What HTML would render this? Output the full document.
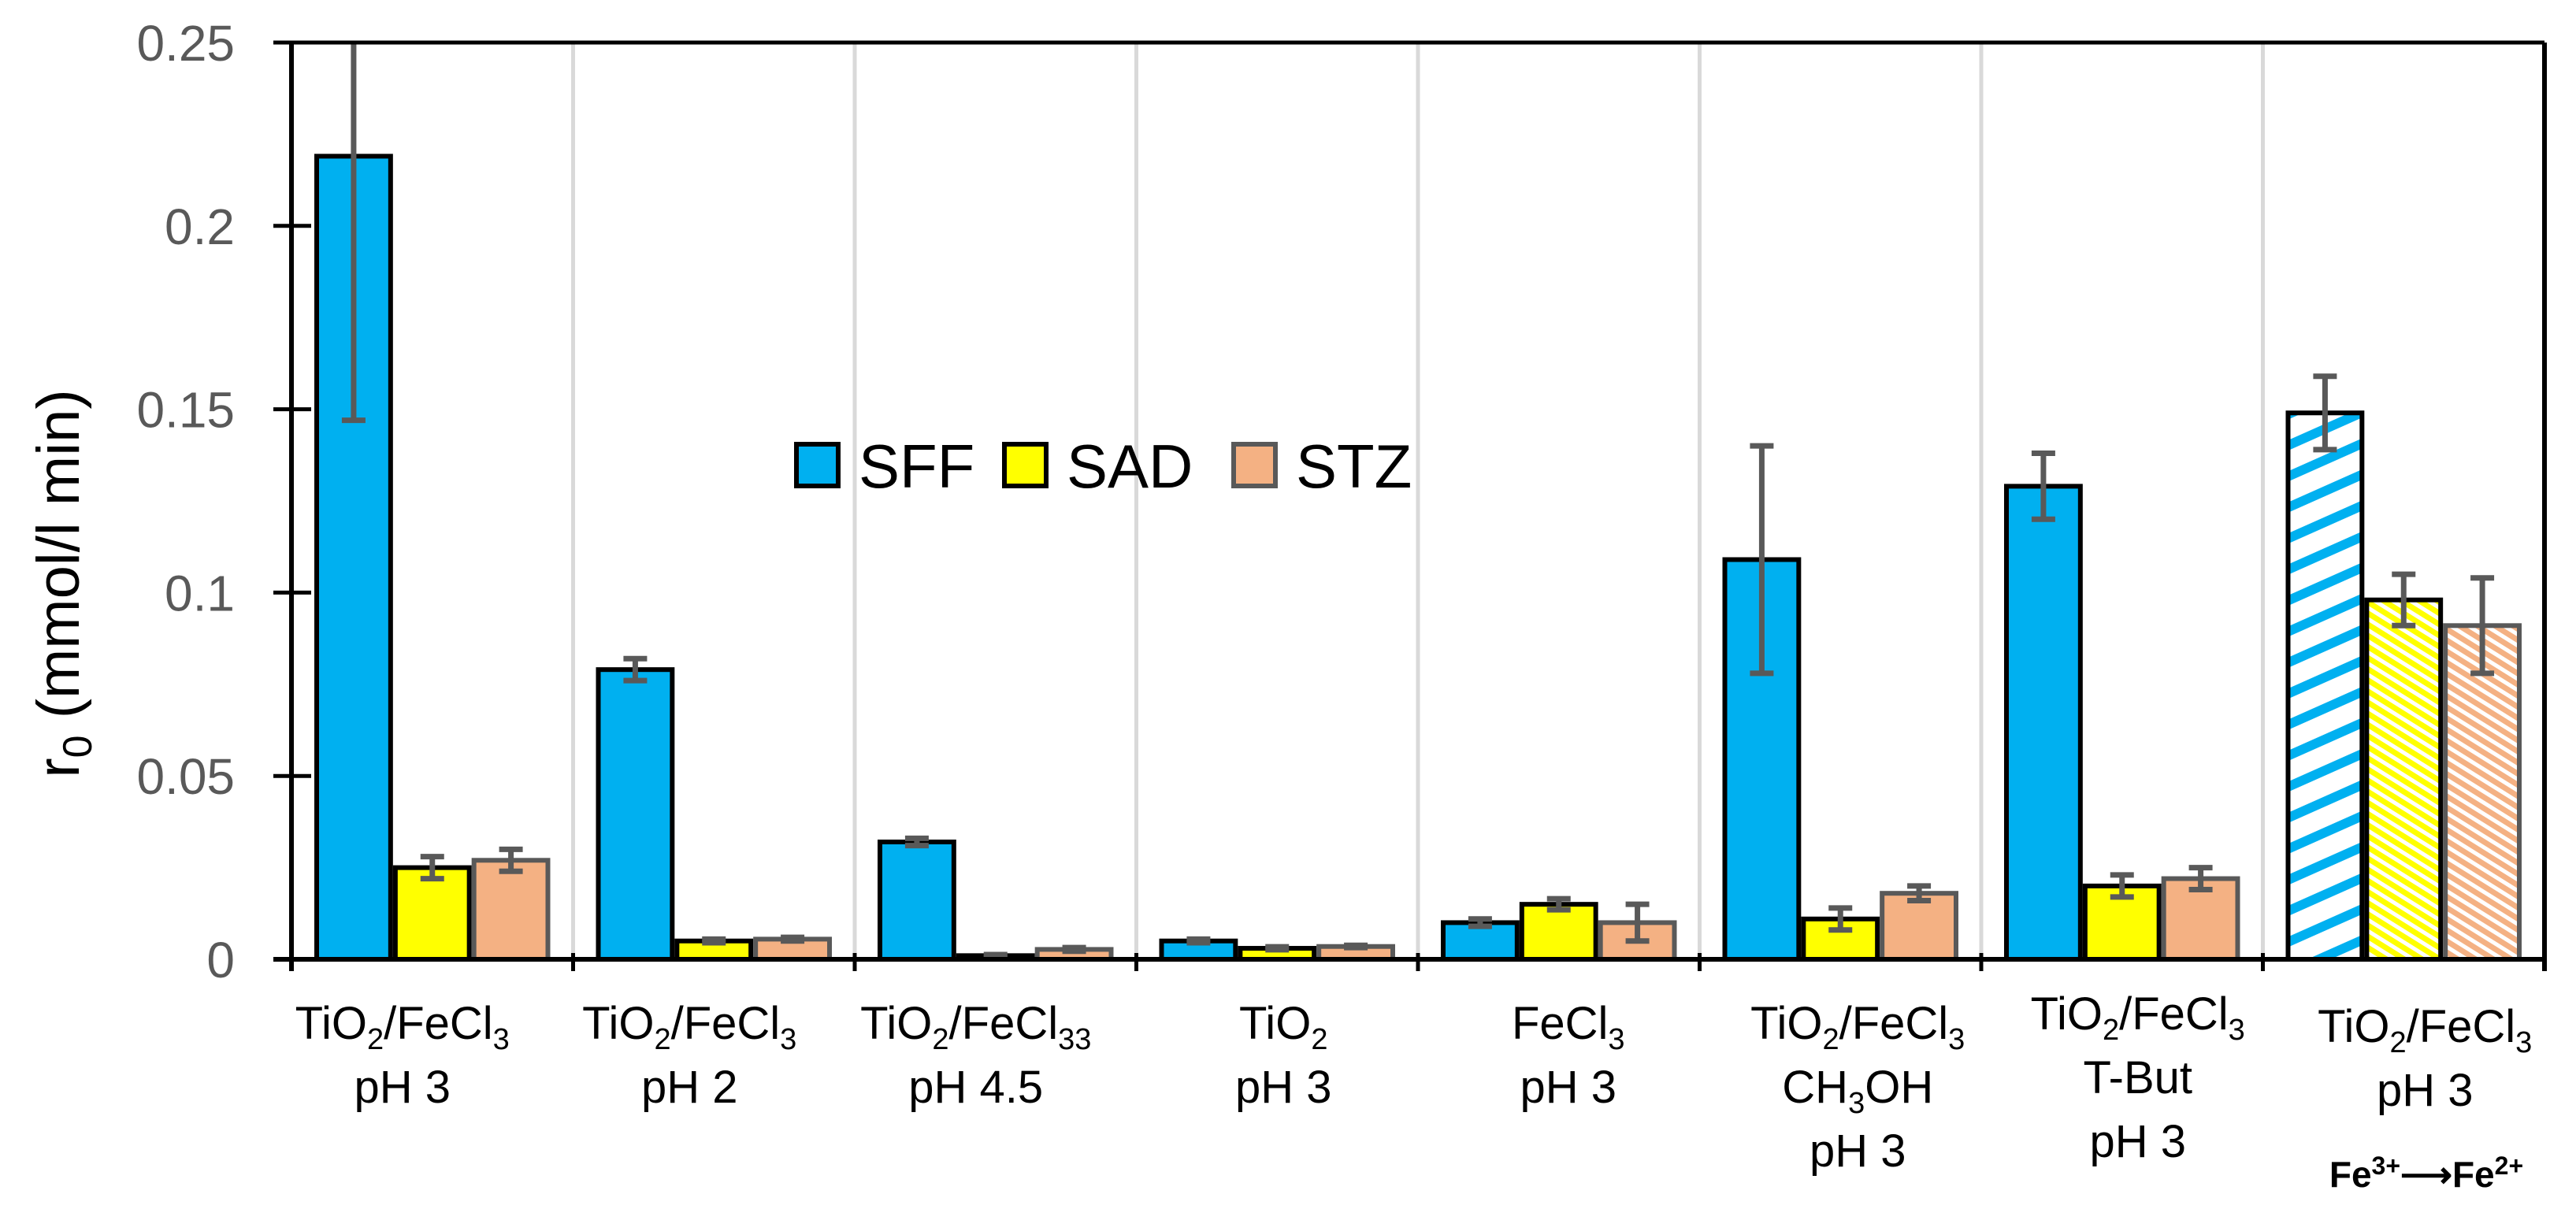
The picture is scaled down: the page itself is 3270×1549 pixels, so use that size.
<!DOCTYPE html>
<html><head><meta charset="utf-8"><style>
html,body{margin:0;padding:0;background:#fff;}
svg{display:block;font-family:"Liberation Sans",sans-serif;}
</style></head><body>
<svg id="chart" width="3270" height="1549" viewBox="0 0 3270 1549" xmlns="http://www.w3.org/2000/svg">
<defs>
<pattern id="hatchBlue" patternUnits="userSpaceOnUse" width="36" height="36" patternTransform="rotate(-24)">
<rect width="36" height="36" fill="#fff"/><rect width="36" height="12" fill="#00B0F0"/></pattern>
<pattern id="hatchYellow" patternUnits="userSpaceOnUse" width="12" height="12" patternTransform="rotate(32)">
<rect width="12" height="12" fill="#fff"/><rect width="12" height="7" fill="#FFFF00"/></pattern>
<pattern id="hatchOrange" patternUnits="userSpaceOnUse" width="12" height="12" patternTransform="rotate(32)">
<rect width="12" height="12" fill="#fff"/><rect width="12" height="7" fill="#F4B183"/></pattern>
</defs>
<g id="grid"></g><g id="bars"></g><g id="axes"></g><g id="labels"></g>
<text transform="translate(100,741) rotate(-90)" text-anchor="middle" font-size="76" fill="#000">r<tspan font-size="52" dy="16">0</tspan><tspan dy="-16"> (mmol/l min)</tspan></text>
<g>
<rect x="1011" y="564" width="53" height="53" fill="#00B0F0" stroke="#000" stroke-width="6"/>
<text x="1090" y="619" font-size="78">SFF</text>
<rect x="1275" y="564" width="53" height="53" fill="#FFFF00" stroke="#000" stroke-width="6"/>
<text x="1354" y="619" font-size="78">SAD</text>
<rect x="1566" y="564" width="53" height="53" fill="#F4B183" stroke="#595959" stroke-width="6"/>
<text x="1645" y="619" font-size="78">STZ</text>
</g>
</svg>
<script>
const categories = ["TiO2/FeCl3 pH 3","TiO2/FeCl3 pH 2","TiO2/FeCl3 pH 4.5","TiO2 pH 3","FeCl3 pH 3","TiO2/FeCl3 CH3OH pH 3","TiO2/FeCl3 T-But pH 3","TiO2/FeCl3 pH 3 Fe3+->Fe2+"];
const sffValues = [0.219,0.079,0.032,0.005,0.010,0.109,0.129,0.149];
const sadValues = [0.025,0.005,0.001,0.003,0.015,0.011,0.020,0.098];
const stzValues = [0.027,0.0055,0.0027,0.0035,0.010,0.018,0.022,0.091];
const sffErrors = [0.072,0.003,0.001,0.0005,0.001,0.031,0.009,0.010];
const sadErrors = [0.003,0.0005,0.0003,0.0004,0.0015,0.003,0.003,0.007];
const stzErrors = [0.003,0.0005,0.0005,0.0003,0.005,0.002,0.003,0.013];
const yTicks = [0,0.05,0.1,0.15,0.2,0.25];
const yTickLabels = ["0","0.05","0.1","0.15","0.2","0.25"];

const NS="http://www.w3.org/2000/svg";
const L=370,R=3230,T=54,B=1218,YMAX=0.25;
const catW=(R-L)/categories.length;
const y=v=>B-(Math.min(v,YMAX)/YMAX)*(B-T);
const xCat=i=>L+i*catW;
function mk(tag,parent,attrs){const e=document.createElementNS(NS,tag);for(const k in attrs)e.setAttribute(k,attrs[k]);parent.appendChild(e);return e;}
const grid=document.getElementById('grid'),bars=document.getElementById('bars'),axes=document.getElementById('axes'),labels=document.getElementById('labels');

for(let i=1;i<categories.length;i++){
  const g=mk('line',grid,{x1:xCat(i),x2:xCat(i),y1:T,y2:B,stroke:'#D9D9D9','stroke-width':5});
  
  
}
const series=[
 {name:'sff',vals:sffValues,errs:sffErrors,fill:'#00B0F0',stroke:'#000',hatch:'url(#hatchBlue)'},
 {name:'sad',vals:sadValues,errs:sadErrors,fill:'#FFFF00',stroke:'#000',hatch:'url(#hatchYellow)'},
 {name:'stz',vals:stzValues,errs:stzErrors,fill:'#F4B183',stroke:'#595959',hatch:'url(#hatchOrange)'}];
const gap=29,bw=(catW-2*gap)/3;
categories.forEach((c,i)=>{
  series.forEach((s,j)=>{
    const x0=xCat(i)+gap+j*bw, v=s.vals[i];
    const r=mk('rect',bars,{x:x0+3,y:y(v),width:bw-6,height:B-y(v),fill:i===7?s.hatch:s.fill,stroke:s.stroke,'stroke-width':6});
    
    
  });
});
categories.forEach((c,i)=>{
  series.forEach((s,j)=>{
    const cx=xCat(i)+gap+j*bw+bw/2, v=s.vals[i], e=s.errs[i];
    const top=y(v+e),bot=y(v-e);
    const eg=mk('g',bars,{stroke:'#595959','stroke-width':7});
    
    
    mk('line',eg,{x1:cx,x2:cx,y1:top,y2:bot});
    if(v+e<=YMAX) mk('line',eg,{x1:cx-15,x2:cx+15,y1:top,y2:top});
    mk('line',eg,{x1:cx-15,x2:cx+15,y1:bot,y2:bot});
  });
});
let a=mk('line',axes,{x1:347,x2:R,y1:B,y2:B,stroke:'#000','stroke-width':6});

a=mk('line',axes,{x1:L,x2:L,y1:T,y2:B+15,stroke:'#000','stroke-width':6});

a=mk('line',axes,{x1:R,x2:R,y1:T,y2:B+15,stroke:'#000','stroke-width':6});

a=mk('line',axes,{x1:347,x2:R,y1:T,y2:T,stroke:'#000','stroke-width':5});

yTicks.forEach((t,k)=>{
  const tk=mk('line',axes,{x1:347,x2:395,y1:y(t),y2:y(t),stroke:'#000','stroke-width':5});
  
  
  const tl=mk('text',axes,{x:298,y:y(t)+23,'text-anchor':'end','font-size':64,fill:'#595959'});
  tl.textContent=yTickLabels[k];
  
  
});
for(let i=1;i<categories.length;i++){
  const tk=mk('line',axes,{x1:xCat(i),x2:xCat(i),y1:B-8,y2:B+15,stroke:'#000','stroke-width':5});
  
  
}
const sub=(d)=>"<tspan font-size='38' dy='13'>"+d+"</tspan>";
const tio="TiO"+sub(2)+"<tspan dy='-13'>/FeCl</tspan>"+sub(3);
const labelLines=[
 [tio,"pH 3"],
 [tio,"pH 2"],
 ["TiO"+sub(2)+"<tspan dy='-13'>/FeCl</tspan>"+sub(33),"pH 4.5"],
 ["TiO"+sub(2),"pH 3"],
 ["FeCl"+sub(3),"pH 3"],
 [tio,"CH"+sub(3)+"<tspan dy='-13'>OH</tspan>","pH 3"],
 [tio,"T-But","pH 3"],
 [tio,"pH 3"]];
const labelDx=[-38,-31,-25,8,12,22,20,27];
const labelDy=[0,0,0,0,0,0,-12,4];
labelLines.forEach((lines,i)=>{
  const cx=xCat(i)+catW/2+labelDx[i];
  const g=mk('g',labels,{});
  
  
  lines.forEach((ln,k)=>{
    const t=mk('text',g,{x:cx,y:1319+labelDy[i]+k*81,'text-anchor':'middle','font-size':58,fill:'#000'});
    t.innerHTML=ln;
  });
});
const fe=mk('text',labels,{x:3080,y:1507,'text-anchor':'middle','font-size':46,'font-weight':'bold',fill:'#000'});
fe.innerHTML="Fe<tspan font-size='32' dy='-16'>3+</tspan><tspan dy='16'>⟶Fe</tspan><tspan font-size='32' dy='-16'>2+</tspan>";


</script>
</body></html>
